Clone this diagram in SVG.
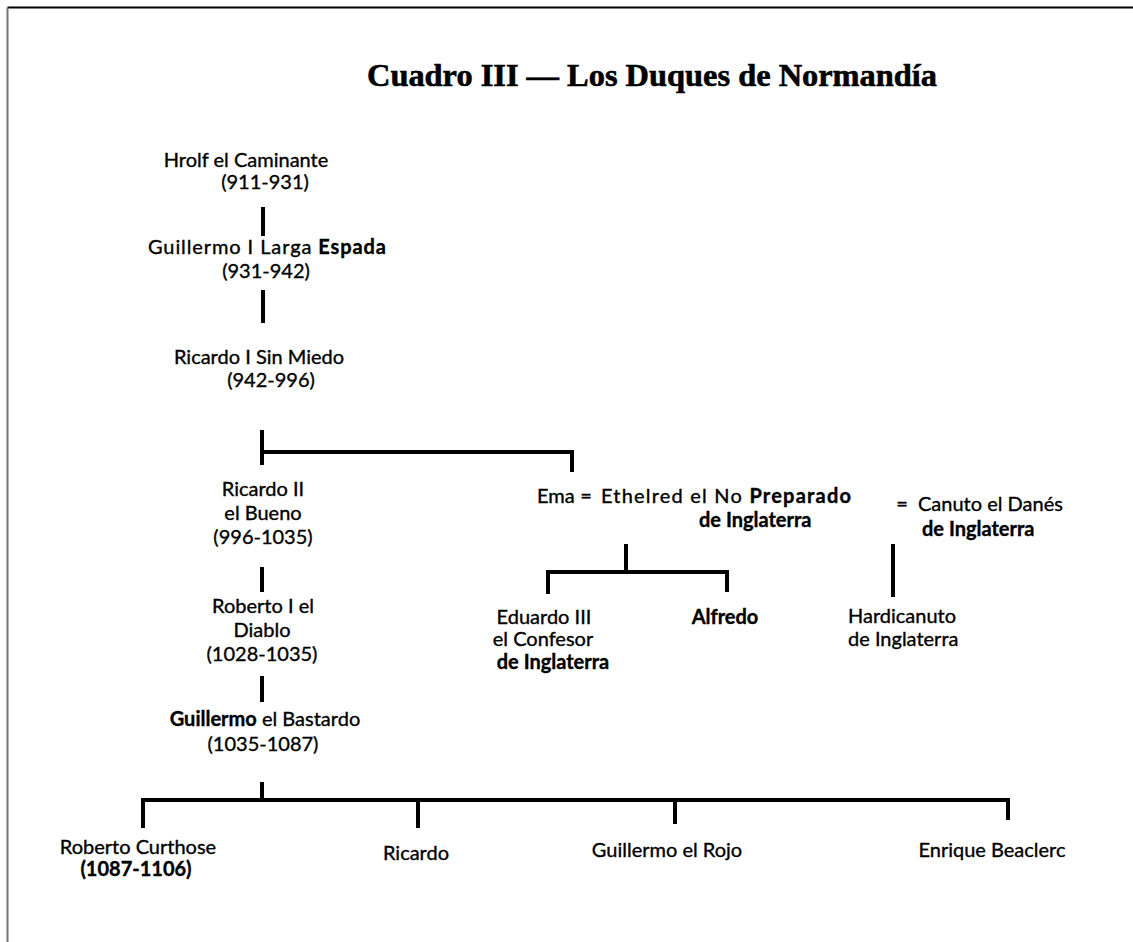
<svg xmlns="http://www.w3.org/2000/svg" width="1133" height="942" viewBox="0 0 1133 942">
<style>
text{font-family:Lato,"Liberation Sans",sans-serif;font-size:20px;fill:#000;stroke:#000;stroke-width:0.35;text-anchor:middle}
.t{font-family:"Liberation Serif",serif;font-size:32px;font-weight:bold;stroke-width:0.6}
.b{font-weight:bold}
.l{text-anchor:start}
.ln{stroke:#000;stroke-width:4;fill:none;stroke-linecap:square}
</style>
<rect width="1133" height="942" fill="#fff"/>
<path d="M7.5 7.5H1133" stroke="#000" stroke-width="2"/>
<path d="M7.5 7.5V942" stroke="#777" stroke-width="2"/>
<text class="t" x="652" y="86" textLength="570" lengthAdjust="spacingAndGlyphs">Cuadro III — Los Duques de Normandía</text>
<g id="connectors">
<path class="ln" d="M263 209V234"/>
<path class="ln" d="M263 292V321"/>
<path class="ln" d="M262 432V463M262 452H572V470"/>
<path class="ln" d="M262 569V590"/>
<path class="ln" d="M262 678V700" stroke-dasharray="6 3"/>
<path class="ln" d="M262 784V800M143 800H1008M143 800V826M418 800V826M675 800V822M1008 800V818"/>
<path class="ln" d="M626 546V572M548 572H727M548 572V592M727 572V590"/>
<path class="ln" d="M893 546V595"/>
</g>
<g id="hrolf"><text x="246" y="167">Hrolf el Caminante</text><text x="265" y="189">(911-931)</text></g>
<g id="guillermo1"><text x="267" y="254" textLength="238" lengthAdjust="spacing">Guillermo I Larga <tspan class="b">Espada</tspan></text><text x="266" y="278">(931-942)</text></g>
<g id="ricardo1"><text x="259" y="364">Ricardo I Sin Miedo</text><text x="271" y="387">(942-996)</text></g>
<g id="ricardo2"><text x="263" y="496">Ricardo II</text><text x="263" y="520">el Bueno</text><text x="263" y="544">(996-1035)</text></g>
<g id="roberto1"><text x="263" y="613">Roberto I el</text><text x="262" y="637">Diablo</text><text x="262" y="661">(1028-1035)</text></g>
<g id="guillermoB"><text x="265" y="726"><tspan class="b">Guillermo</tspan> el Bastardo</text><text x="263" y="751">(1035-1087)</text></g>
<g id="ema"><text class="l" x="537" y="503">Ema</text><text x="586" y="503">=</text><text class="l" x="601" y="503" textLength="250" lengthAdjust="spacing">Ethelred el No <tspan class="b">Preparado</tspan></text><text class="l b" x="699" y="527">de Inglaterra</text></g>
<g id="canuto"><text x="902" y="511">=</text><text class="l" x="918" y="511">Canuto el Danés</text><text class="l b" x="922" y="536">de Inglaterra</text></g>
<g id="eduardo"><text x="544" y="624">Eduardo III</text><text x="543" y="646">el Confesor</text><text class="b" x="553" y="669">de Inglaterra</text></g>
<g id="alfredo"><text class="b" x="725" y="624">Alfredo</text></g>
<g id="hardicanuto"><text class="l" x="848" y="623">Hardicanuto</text><text class="l" x="848" y="646">de Inglaterra</text></g>
<g id="robertoC"><text x="138" y="854">Roberto Curthose</text><text class="b" x="136" y="876">(1087-1106)</text></g>
<g id="ricardo"><text x="416" y="860">Ricardo</text></g>
<g id="guillermoR"><text x="667" y="857">Guillermo el Rojo</text></g>
<g id="enrique"><text x="992" y="857">Enrique Beaclerc</text></g>
</svg>
